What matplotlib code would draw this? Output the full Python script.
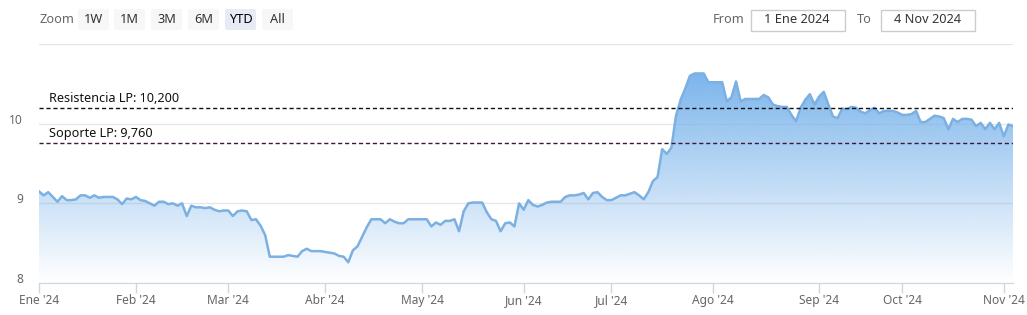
import numpy as np
import matplotlib
matplotlib.use('Agg')
import matplotlib.pyplot as plt
from matplotlib.colors import to_rgb
from matplotlib.patches import FancyBboxPatch, Rectangle
from matplotlib.transforms import ScaledTranslation, blended_transform_factory

plt.rcParams['font.family'] = ['Noto Sans', 'DejaVu Sans']

# closing values per trading day, one list per month
jan = [9.15, 9.10, 9.14, 9.08, 9.02, 9.09, 9.04, 9.04, 9.05, 9.10, 9.10, 9.07, 9.10, 9.07, 9.08,
       9.08, 9.08, 9.05, 8.99, 9.06, 9.05]
feb = [9.08, 9.04, 9.03, 9.00, 8.97, 9.02, 9.02, 8.99, 9.00, 8.97, 9.00, 8.84, 8.97, 8.95, 8.95,
       8.94, 8.95, 8.92, 8.90, 8.91]
mar = [8.91, 8.84, 8.90, 8.91, 8.90, 8.79, 8.80, 8.72, 8.60, 8.33, 8.33, 8.33, 8.33, 8.35, 8.34,
       8.33, 8.40, 8.43, 8.40, 8.40, 8.40]
apr = [8.39, 8.38, 8.37, 8.34, 8.33, 8.26, 8.41, 8.46, 8.58, 8.70, 8.80, 8.80, 8.80, 8.75, 8.80,
       8.77, 8.75, 8.75, 8.80, 8.80, 8.80]
may = [8.80, 8.80, 8.71, 8.76, 8.73, 8.78, 8.78, 8.80, 8.65, 8.90, 9.00, 9.01, 9.01, 9.01, 8.89,
       8.80, 8.78, 8.65, 8.75, 8.76, 8.71, 9.00]
jun = [8.92, 9.04, 8.98, 8.96, 8.98, 9.01, 9.02, 9.02, 9.02, 9.08, 9.10, 9.10, 9.11, 9.13, 9.05,
       9.13, 9.14, 9.08, 9.04]
jul = [9.04, 9.07, 9.10, 9.10, 9.12, 9.14, 9.10, 9.05, 9.14, 9.28, 9.33, 9.68, 9.62, 9.70, 10.10,
       10.30, 10.44, 10.60, 10.63, 10.63, 10.63, 10.52]
aug = [10.52, 10.52, 10.52, 10.28, 10.33, 10.53, 10.28, 10.31, 10.31, 10.31, 10.31, 10.36, 10.33,
       10.24, 10.22, 10.21, 10.21, 10.11, 10.03, 10.20, 10.30, 10.37, 10.24]
sep = [10.34, 10.40, 10.24, 10.09, 10.07, 10.19, 10.18, 10.21, 10.20, 10.15, 10.13, 10.17, 10.20,
       10.13, 10.16, 10.16, 10.16, 10.14]
oct_ = [10.11, 10.11, 10.12, 10.16, 10.02, 10.02, 10.06, 10.10, 10.09, 10.07, 9.93, 10.06, 10.02,
        10.06, 10.06, 10.05, 9.97, 10.01, 9.93, 10.01, 9.93, 10.01]
nov = [9.84, 9.99, 9.97]

months = [jan, feb, mar, apr, may, jun, jul, aug, sep, oct_, nov]
month_labels = ["Ene '24", "Feb '24", "Mar '24", "Abr '24", "May '24", "Jun '24",
                "Jul '24", "Ago '24", "Sep '24", "Oct '24", "Nov '24"]

resistencia = 10.2
soporte = 9.76

zoom_buttons = ['1W', '1M', '3M', '6M', 'YTD', 'All']
date_from = '1 Ene 2024'
date_to = '4 Nov 2024'

values = np.concatenate(months)
x = np.arange(len(values))
starts = np.cumsum([0] + [len(m) for m in months[:-1]])

fig = plt.figure(figsize=(10.27, 3.15), dpi=100)
ax = fig.add_axes([39 / 1027, 32 / 315, 974 / 1027, 239 / 315])

base = 8
color = '#7cb5ec'
poly = ax.fill_between(x, values, base, facecolor='none', edgecolor='none')
grad = np.zeros((256, 1, 4))
grad[..., :3] = to_rgb(color)
grad[:, 0, 3] = np.linspace(0.0, 1.0, 256)
im = ax.imshow(grad, extent=[x[0], x[-1], base, values.max()], origin='lower',
               aspect='auto', zorder=1, interpolation='bilinear')
im.set_clip_path(poly.get_paths()[0], transform=ax.transData)
ax.plot(x, values, color='#7cb0e2', lw=1.8, zorder=3, solid_joinstyle='round')

ax.axhline(resistencia, color='#111111', lw=1, ls=(0, (3, 2)), zorder=4)
ax.axhline(soporte, color='#3a1a3a', lw=1, ls=(0, (3, 2)), zorder=4)
bt = blended_transform_factory(ax.transAxes, ax.transData)
ax.annotate('Resistencia LP: 10,200', xy=(10 / 974, resistencia), xycoords=bt,
            xytext=(0, 2), textcoords='offset points', va='bottom', fontsize=9.1, color='#111111')
ax.annotate('Soporte LP: 9,760', xy=(10 / 974, soporte), xycoords=bt,
            xytext=(0, 2), textcoords='offset points', va='bottom', fontsize=9.1, color='#111111')

ax.set_xlim(x[0], x[-1])
ax.set_ylim(8, 11)
ax.set_yticks([8, 9, 10, 11])
ax.set_yticklabels(['8', '9', '10', ''])
ax.grid(axis='y', color='#e6e6e6', lw=1)
ax.set_axisbelow(True)
ax.tick_params(axis='y', length=0, pad=11.5, labelsize=8.6, labelcolor='#666666')
for lab in ax.get_yticklabels():
    lab.set_transform(lab.get_transform() + ScaledTranslation(0, 5 / 100, fig.dpi_scale_trans))
ax.set_xticks(starts)
ax.set_xticklabels(month_labels)
ax.tick_params(axis='x', length=7, width=1, color='#ccd6eb', pad=1.2, labelsize=8.6,
               labelcolor='#666666')
for s in ['top', 'right', 'left']:
    ax.spines[s].set_visible(False)
ax.spines['bottom'].set_color('#ccd6eb')
ax.spines['bottom'].set_zorder(5)

# range selector row on top
top = fig.add_axes([0, 0, 1, 1], zorder=10)
top.set_xlim(0, 1027)
top.set_ylim(315, 0)
top.axis('off')
top.patch.set_visible(False)
top.text(39, 19.5, 'Zoom', fontsize=9.2, color='#666666', va='center', ha='left')
bx = [78, 114, 151, 188, 225, 262]
for lab, b in zip(zoom_buttons, bx):
    sel = lab == 'YTD'
    top.add_patch(FancyBboxPatch((b, 9), 31, 21, boxstyle='round,pad=0,rounding_size=2',
                                 fc='#e6ebf5' if sel else '#f7f7f7', ec='none'))
    top.text(b + 15.5, 19.5, lab, fontsize=9.2, color='#000000' if sel else '#333333',
             fontweight='bold' if sel else 'normal', ha='center', va='center')
top.text(713, 19.5, 'From', fontsize=9.2, color='#666666', va='center', ha='left')
top.add_patch(Rectangle((750.5, 9.5), 94, 21, fc='white', ec='#cccccc', lw=1))
top.text(797, 19.5, date_from, fontsize=9.2, color='#333333', ha='center', va='center')
top.text(857, 19.5, 'To', fontsize=9.2, color='#666666', va='center', ha='left')
top.add_patch(Rectangle((880.5, 9.5), 94, 21, fc='white', ec='#cccccc', lw=1))
top.text(927, 19.5, date_to, fontsize=9.2, color='#333333', ha='center', va='center')

fig.savefig('out.png', dpi=100)
